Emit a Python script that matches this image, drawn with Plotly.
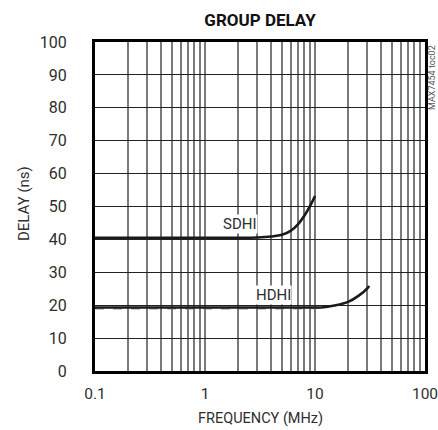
import math
import plotly.graph_objects as go

FONT = "Roboto, Liberation Sans, sans-serif"
INK = "#2e2e2e"

# Data (frequency in MHz, delay in ns)
sdhi_freq = [0.1, 0.5, 1, 2, 3, 4, 5, 6, 7, 8, 9, 10]
sdhi_delay = [40.5, 40.5, 40.5, 40.5, 40.6, 40.9, 41.4, 42.6, 44.6, 47.2, 50.1, 53.2]

hdhi_freq = [0.1, 1, 5, 10, 12, 15, 20, 25, 30, 31]
hdhi_delay = [19.3, 19.3, 19.3, 19.3, 19.4, 19.9, 21.0, 22.9, 25.2, 25.9]

hdhi2_freq = [0.1, 1, 5, 10, 12]
hdhi2_delay = [18.9, 18.9, 18.9, 19.0, 19.2]

x_tickvals = [m * 10 ** e for e in (-1, 0, 1) for m in range(1, 10)] + [100]
x_labels = {0.1: "0.1", 1: "1", 10: "10", 100: "100"}
x_ticktext = [x_labels.get(v, "") for v in x_tickvals]
y_tickvals = list(range(0, 101, 10))
decade_lines = [1, 10]

labels = [("SDHI", 2.1, 44.6), ("HDHI", 4.2, 23.0)]

W, H = 438, 430
L, R, T, B = 95, 425, 42, 371  # plot box in window pixels
PW, PH = R - L, B - T

fig = go.Figure()
fig.add_trace(go.Scatter(x=hdhi2_freq, y=hdhi2_delay, mode="lines",
                         line=dict(color="#8a8a8a", width=1.3, dash="dash", shape="spline"),
                         showlegend=False, hoverinfo="skip"))
fig.add_trace(go.Scatter(x=sdhi_freq, y=sdhi_delay, mode="lines",
                         line=dict(color="#1a1a1a", width=2.6, shape="spline"),
                         showlegend=False))
fig.add_trace(go.Scatter(x=hdhi_freq, y=hdhi_delay, mode="lines",
                         line=dict(color="#1a1a1a", width=2.6, shape="spline"),
                         showlegend=False))

for v in decade_lines:
    fig.add_shape(type="line", xref="x", yref="paper", x0=v, x1=v, y0=0, y1=1,
                  line=dict(color="#111111", width=1.6), layer="below")

for txt, xv, yv in labels:
    fig.add_annotation(x=math.log10(xv), y=yv, xref="x", yref="y", text=txt, showarrow=False,
                       font=dict(family=FONT, size=15, color=INK),
                       bgcolor="white", borderpad=0)


def px(xa):
    return (xa - L) / PW


def py(ya):
    return (B - ya) / PH


fig.add_annotation(xref="paper", yref="paper", x=px(432), y=py(78),
                   xanchor="center", yanchor="middle", text="MAX7454 toc02",
                   showarrow=False, textangle=-90,
                   font=dict(family=FONT, size=9, color="#555555"))
fig.add_annotation(xref="paper", yref="paper", x=px(260), y=py(418),
                   xanchor="center", yanchor="middle", text="FREQUENCY (MHz)",
                   showarrow=False, font=dict(family=FONT, size=14.5, color=INK))
fig.add_annotation(xref="paper", yref="paper", x=px(24), y=py(204),
                   xanchor="center", yanchor="middle", text="DELAY (ns)",
                   showarrow=False, textangle=-90, font=dict(family=FONT, size=15, color=INK))

fig.update_layout(
    width=W, height=H,
    margin=dict(l=L, r=W - R, t=T, b=H - B, autoexpand=False),
    paper_bgcolor="white", plot_bgcolor="white",
    title=dict(text="<b>GROUP DELAY</b>", x=260 / W, xanchor="center",
               y=1 - 20 / H, yanchor="middle",
               font=dict(family=FONT, size=17, color="#111111")),
    font=dict(family=FONT, size=16, color=INK),
)

fig.update_xaxes(type="log", range=[-1, 2], tickvals=x_tickvals, ticktext=x_ticktext,
                 showgrid=True, gridcolor="#7a7a7a", gridwidth=1.5,
                 showline=True, linecolor="black", linewidth=3, mirror=True,
                 ticks="", ticklabelstandoff=6, zeroline=False, automargin=False,
                 ticklabeloverflow="allow",
                 tickfont=dict(family=FONT, size=15.5, color=INK))
fig.update_yaxes(range=[0, 100], tickvals=y_tickvals,
                 showgrid=True, gridcolor="#222222", gridwidth=1,
                 showline=True, linecolor="black", linewidth=3, mirror=True,
                 ticks="", ticklabelstandoff=22, zeroline=False, automargin=False,
                 tickfont=dict(family=FONT, size=16, color=INK))

fig.write_html("out.html", config={"displayModeBar": False},
               post_script="document.body.style.margin='0';document.body.style.overflow='hidden';")
